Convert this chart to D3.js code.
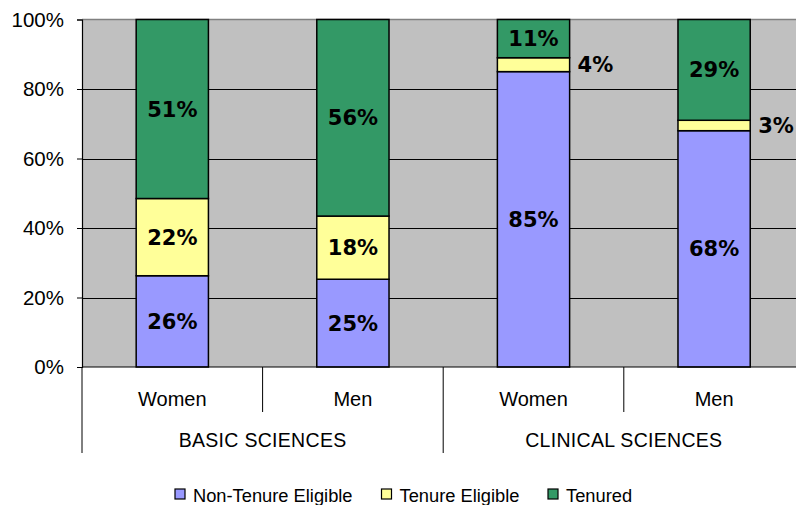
<!DOCTYPE html>
<html><head><meta charset="utf-8">
<script src="https://cdn.jsdelivr.net/npm/d3@7"></script>
<style>html,body{margin:0;padding:0;background:#fff;overflow:hidden}</style>
</head><body>
<script>
const groups = ["BASIC SCIENCES", "CLINICAL SCIENCES"];
const genders = ["Women", "Men", "Women", "Men"];
const barGroup = [0, 0, 1, 1];
const seriesNames = ["Non-Tenure Eligible", "Tenure Eligible", "Tenured"];
const nonTenureEligible = [26, 25, 85, 68];
const tenureEligible = [22, 18, 4, 3];
const tenured = [51, 56, 11, 29];
const colors = ["#9999FF", "#FFFF99", "#339966"];
const yTicks = [0, 0.2, 0.4, 0.6, 0.8, 1.0];

const W = 796, H = 505;
const m = {left: 82, top: 19.5, right: 804.4, bottom: 367};
const svg = d3.select("body").append("svg").attr("width", W).attr("height", H)
  .style("font-family", "'Liberation Sans', Arial, sans-serif");

const rows = genders.map((g, i) => ({id: i, gender: g, group: barGroup[i],
  "Non-Tenure Eligible": nonTenureEligible[i], "Tenure Eligible": tenureEligible[i], "Tenured": tenured[i]}));

const x = d3.scaleBand().domain(rows.map(d => d.id)).range([m.left, m.right])
  .paddingInner(0.6).paddingOuter(0.3);
const y = d3.scaleLinear().domain([0, 1]).range([m.bottom, m.top]);

const stack = d3.stack().keys(seriesNames).offset(d3.stackOffsetExpand);
const stacked = stack(rows);

// plot background
svg.append("rect").attr("x", m.left).attr("y", m.top).attr("width", m.right - m.left)
  .attr("height", m.bottom - m.top).attr("fill", "#C0C0C0");

// gridlines
svg.append("g").selectAll("line").data(yTicks.filter(t => t > 0 && t < 1)).join("line")
  .attr("x1", m.left).attr("x2", m.right).attr("y1", d => Math.round(y(d)) + 0.5).attr("y2", d => Math.round(y(d)) + 0.5)
  .attr("stroke", "#000").attr("stroke-width", 1);
svg.append("line").attr("x1", m.left).attr("x2", m.right).attr("y1", m.top).attr("y2", m.top)
  .attr("stroke", "#808080").attr("stroke-width", 1.5);

// bars
const layer = svg.append("g").selectAll("g").data(stacked).join("g")
  .attr("fill", (d, i) => colors[i]);
layer.selectAll("rect").data(d => d).join("rect")
  .attr("x", d => x(d.data.id)).attr("width", x.bandwidth())
  .attr("y", d => y(d[1])).attr("height", d => y(d[0]) - y(d[1]))
  .attr("stroke", "#000").attr("stroke-width", 1.5);

// labels
stacked.forEach((s, si) => {
  s.forEach(d => {
    const v = d.data[s.key];
    const h = y(d[0]) - y(d[1]);
    const small = h < 24;
    svg.append("text")
      .attr("x", small ? x(d.data.id) + x.bandwidth() + 8 : x(d.data.id) + x.bandwidth() / 2)
      .attr("y", (y(d[0]) + y(d[1])) / 2)
      .attr("dy", "0.36em")
      .attr("text-anchor", small ? "start" : "middle")
      .style("font-family", "'DejaVu Sans', Verdana, sans-serif")
      .style("font-weight", "bold").style("font-size", "21px").attr("fill", "#000")
      .text(v + "%");
  });
});

// y axis
const yAxis = d3.axisLeft(y).tickValues(yTicks).tickFormat(d3.format(".0%")).tickSize(5).tickPadding(13);
const ya = svg.append("g").attr("transform", `translate(${m.left},0)`).call(yAxis);
ya.select(".domain").attr("stroke", "#000").attr("stroke-width", 1.2);
ya.selectAll(".tick line").attr("stroke", "#000");
ya.selectAll("text").style("font-size", "20.5px").style("font-family", "'Liberation Sans', Arial, sans-serif").attr("fill", "#000");

// x axis line
svg.append("line").attr("x1", m.left).attr("x2", W).attr("y1", m.bottom).attr("y2", m.bottom)
  .attr("stroke", "#000").attr("stroke-width", 1.2);

// category dividers
const step = x.step();
rows.forEach((d, i) => {
  const left = x(d.id) - x.paddingOuter() * step;
  const isGroupStart = i === 0 || barGroup[i] !== barGroup[i - 1];
  svg.append("line").attr("x1", left).attr("x2", left).attr("y1", m.bottom)
    .attr("y2", isGroupStart ? 453 : 412).attr("stroke", "#000").attr("stroke-width", 1);
  svg.append("text").attr("x", x(d.id) + x.bandwidth() / 2).attr("y", 406)
    .attr("text-anchor", "middle").style("font-size", "20px").attr("fill", "#000").text(d.gender);
});
groups.forEach((g, gi) => {
  const ids = rows.filter(r => r.group === gi).map(r => r.id);
  const x0 = x(ids[0]) - x.paddingOuter() * step;
  const x1 = x(ids[ids.length - 1]) + x.bandwidth() + x.paddingOuter() * step;
  svg.append("text").attr("x", (x0 + x1) / 2).attr("y", 447).attr("text-anchor", "middle")
    .style("font-size", "19.5px").style("letter-spacing", "0.3px").attr("fill", "#000").text(g);
});

// legend
const legendX = [175, 381.5, 548];
seriesNames.forEach((n, i) => {
  svg.append("rect").attr("x", legendX[i]).attr("y", 489).attr("width", 10).attr("height", 10)
    .attr("fill", colors[i]).attr("stroke", "#000").attr("stroke-width", 1.2);
  svg.append("text").attr("x", legendX[i] + 18).attr("y", 501.5).style("font-size", "18.3px")
    .attr("fill", "#000").text(n);
});
</script>
</body></html>
